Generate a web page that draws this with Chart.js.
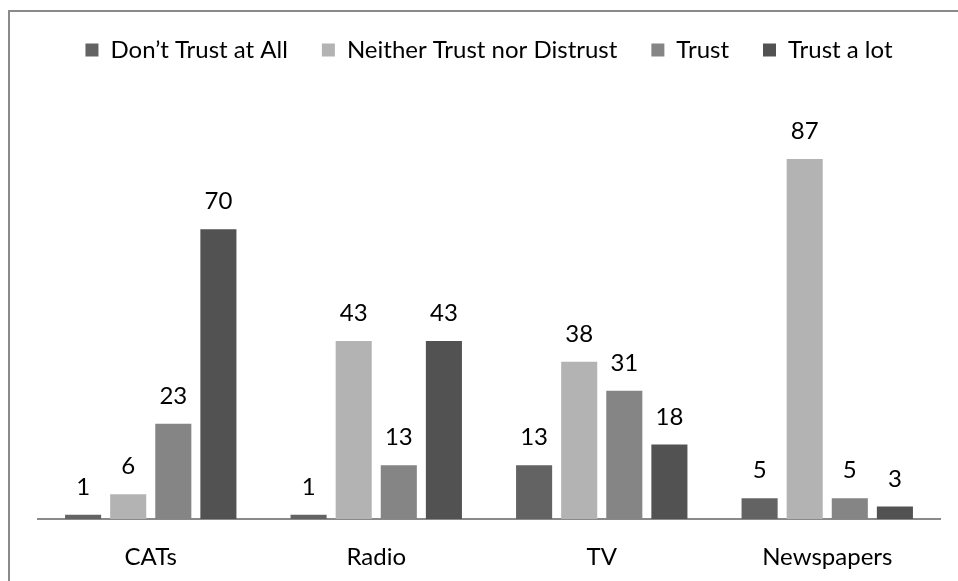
<!DOCTYPE html>
<html>
<head>
<meta charset="utf-8">
<script src="https://cdn.jsdelivr.net/npm/chart.js@4"></script>
<style>
  html, body { margin: 0; padding: 0; background: #fff; }
  #wrap { position: relative; width: 958px; height: 581px; overflow: hidden; }
  #frame { position: absolute; left: 8px; top: 10px; width: 1000px; height: 700px; border: 2px solid #8a8a8a; box-sizing: border-box; }
  canvas { position: absolute; left: 0; top: 0; }
</style>
</head>
<body>
<div id="wrap">
  <div id="frame"></div>
  <canvas id="c" width="958" height="581"></canvas>
</div>
<script>
const categories = ["CATs", "Radio", "TV", "Newspapers"];
const seriesNames = ["Don\u2019t Trust at All", "Neither Trust nor Distrust", "Trust", "Trust a lot"];
const dontTrust = [1, 1, 13, 5];
const neither = [6, 43, 38, 87];
const trust = [23, 13, 31, 5];
const trustALot = [70, 43, 18, 3];
const colors = ["#636363", "#b3b3b3", "#858585", "#525252"];

const FONT = "Lato, 'Open Sans', sans-serif";
const FS = 24;

const valueLabels = {
  id: 'valueLabels',
  afterDatasetsDraw(chart) {
    const ctx = chart.ctx;
    ctx.save();
    ctx.font = FS + "px " + FONT;
    ctx.fillStyle = "#000";
    ctx.textAlign = "center";
    ctx.textBaseline = "alphabetic";
    chart.data.datasets.forEach((ds, i) => {
      const meta = chart.getDatasetMeta(i);
      meta.data.forEach((bar, j) => {
        ctx.fillText(String(ds.data[j]), bar.x, bar.y - 20);
      });
    });
    ctx.restore();
  }
};

const allSeries = [dontTrust, neither, trust, trustALot];

new Chart(document.getElementById('c'), {
  type: 'bar',
  data: {
    labels: categories,
    datasets: allSeries.map((d, i) => ({
      label: seriesNames[i],
      data: d,
      backgroundColor: colors[i],
      borderWidth: 0,
      categoryPercentage: 0.8,
      barPercentage: 0.8
    }))
  },
  options: {
    responsive: false,
    animation: false,
    devicePixelRatio: 1,
    layout: { padding: { left: 38, right: 18, top: 4, bottom: 0 } },
    plugins: {
      legend: {
        position: 'top',
        labels: {
          font: { family: FONT, size: FS },
          color: '#000',
          boxWidth: 13,
          boxHeight: 13,
          padding: 34
        }
      },
      tooltip: { enabled: false }
    },
    scales: {
      x: {
        grid: { display: false, drawTicks: false },
        border: { display: true, color: '#8a8a8a', width: 2 },
        ticks: { font: { family: FONT, size: FS }, color: '#000', padding: 24 },
        afterFit(scale) { scale.height = 62; }
      },
      y: {
        display: false,
        min: 0,
        max: 108,
        grid: { display: false }
      }
    }
  },
  plugins: [valueLabels]
});
</script>
</body>
</html>
